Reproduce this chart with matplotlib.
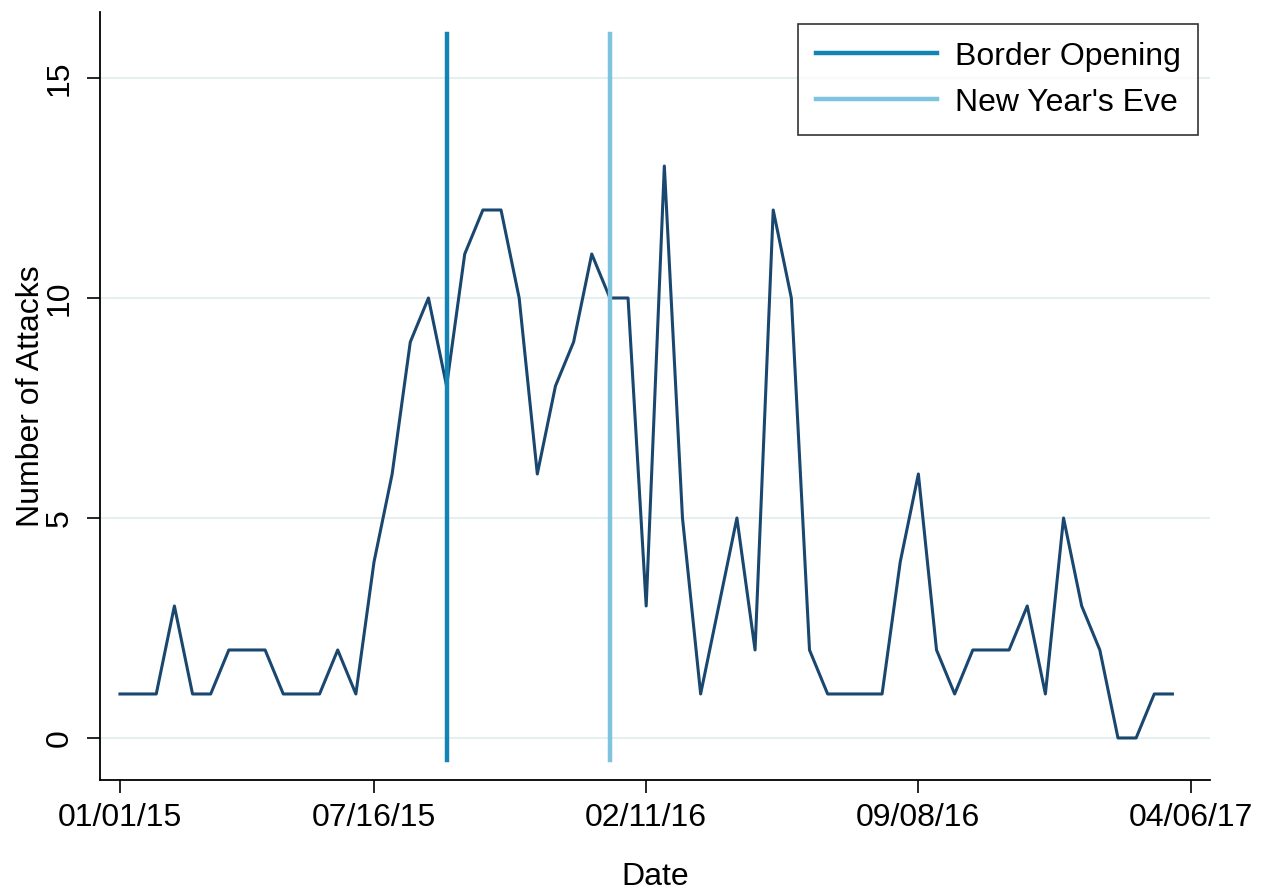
import matplotlib
matplotlib.use("Agg")
import matplotlib.pyplot as plt
import pandas as pd

plt.rcParams['font.family'] = ['Liberation Sans', 'DejaVu Sans']

attacks = [1, 1, 1, 3, 1, 1, 2, 2, 2, 1, 1, 1, 2, 1, 4, 6, 9, 10, 8, 11,
           12, 12, 10, 6, 8, 9, 11, 10, 10, 3, 13, 5, 1, 3, 5, 2, 12, 10, 2, 1,
           1, 1, 1, 4, 6, 2, 1, 2, 2, 2, 3, 1, 5, 3, 2, 0, 0, 1, 1]
dates = pd.date_range("2015-01-01", periods=len(attacks), freq="14D")

events = ["Border Opening", "New Year's Eve"]
event_dates = [pd.Timestamp("2015-09-10"), pd.Timestamp("2016-01-14")]
event_colors = ["#1385b5", "#7ec4de"]

xtick_dates = [pd.Timestamp(d) for d in ["2015-01-01", "2015-07-16", "2016-02-11", "2016-09-08", "2017-04-06"]]
xtick_labels = ["01/01/15", "07/16/15", "02/11/16", "09/08/16", "04/06/17"]
yticks = [0, 5, 10, 15]

FS = 23

fig = plt.figure(figsize=(12.71, 8.94), dpi=100)
ax = fig.add_axes([100/1271, 1 - 780/894, 1110/1271, 768/894])

for y in yticks:
    ax.axhline(y, color="#e6eff0", lw=1.5, zorder=0)

ax.plot(dates, attacks, color="#1a476f", lw=2.2, zorder=2)
for name, d, c in zip(events, event_dates, event_colors):
    ax.plot([d, d], [-0.5, 16.0], color=c, lw=3.2, label=name, zorder=3)

x0 = pd.Timestamp("2015-01-01")
ax.set_xlim(x0 - pd.Timedelta(days=15.4), x0 + pd.Timedelta(days=841))
ax.set_ylim(-0.955, 16.5)

ax.set_xticks(xtick_dates)
ax.set_xticklabels(xtick_labels, fontsize=FS)
ax.set_yticks(yticks)
ax.set_yticklabels([str(v) for v in yticks], fontsize=FS, rotation=90, va="center")
ax.tick_params(axis="both", direction="out", length=9.5, width=1.2, color="black")
ax.tick_params(axis="x", pad=7)
ax.tick_params(axis="y", pad=9)

for s in ["top", "right"]:
    ax.spines[s].set_visible(False)
for s in ["left", "bottom"]:
    ax.spines[s].set_linewidth(1.3)

ax.set_xlabel("Date", fontsize=FS, labelpad=21)
ax.set_ylabel("Number of Attacks", fontsize=FS, labelpad=-1)

leg = ax.legend(loc="upper right", bbox_to_anchor=(1198/1271, 1 - 24/894), bbox_transform=fig.transFigure,
                fontsize=FS, frameon=True, fancybox=False, edgecolor="black", handlelength=3.8,
                handletextpad=0.55, borderpad=0.55, labelspacing=0.5, borderaxespad=0)
leg.get_frame().set_linewidth(1.2)

fig.savefig("out.png", dpi=100, facecolor="white")
